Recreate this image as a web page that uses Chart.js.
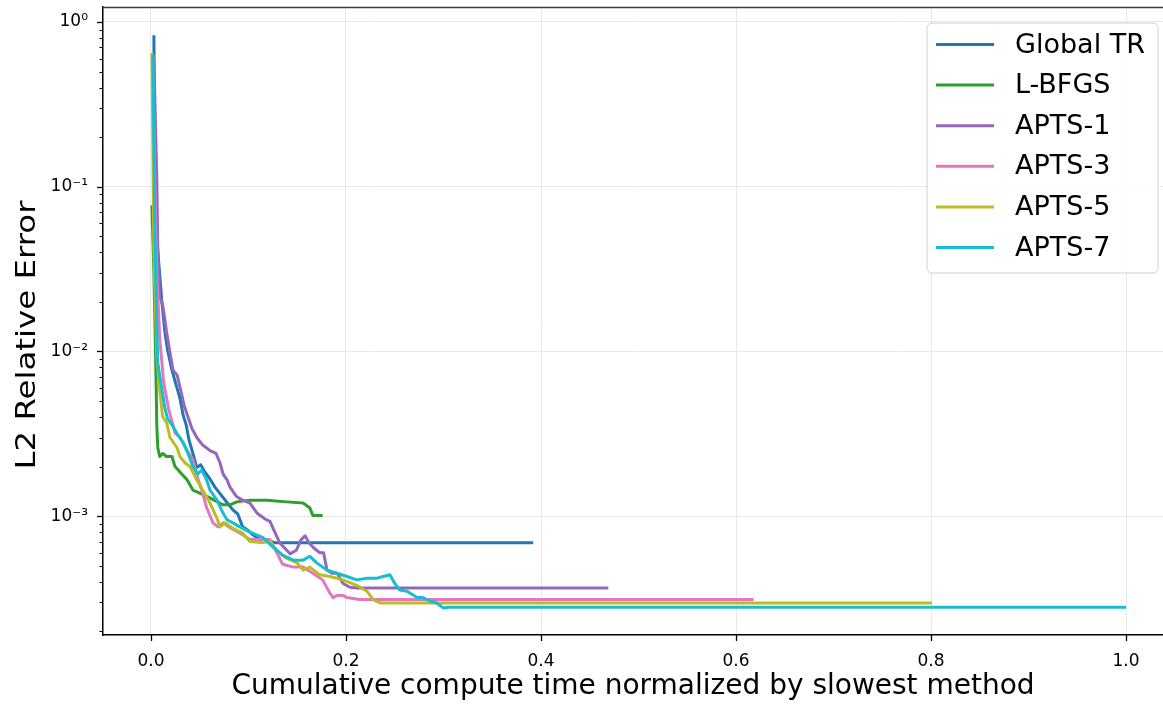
<!DOCTYPE html>
<html><head><meta charset="utf-8">
<script src="https://cdn.jsdelivr.net/npm/chart.js@4.4.1/dist/chart.umd.min.js"></script>
<style>html,body{margin:0;padding:0;background:#fff;overflow:hidden}canvas{display:block}</style>
</head><body>
<canvas id="c" width="1163" height="704"></canvas>
<script>
// ---- data ----
const seriesNames = ['Global TR', 'L-BFGS', 'APTS-1', 'APTS-3', 'APTS-5', 'APTS-7'];
const seriesColors = ['#1f77b4', '#2ca02c', '#9467bd', '#e377c2', '#bcbd22', '#17becf'];

const globalTR_x = [0.003,0.004,0.007,0.011,0.014,0.017,0.0215,0.0256,0.0297,0.033,0.036,0.039,0.043,0.047,0.051,0.055,0.0605,0.0656,0.0708,0.078,0.084,0.089,0.094,0.0995,0.1046,0.11,0.117,0.127,0.392];
const globalTR_y = [0.83,0.083,0.041,0.0205,0.0135,0.0102,0.0077,0.0063,0.0052,0.0041,0.0036,0.0029,0.0024,0.00197,0.00205,0.00186,0.00168,0.0015,0.00137,0.00121,0.00109,0.00103,0.00086,0.00082,0.00077,0.00073,0.00072,0.00069,0.00069];

const lbfgs_x = [0.001,0.003,0.005,0.006,0.007,0.009,0.012,0.016,0.0215,0.0246,0.0297,0.037,0.043,0.05,0.0605,0.074,0.081,0.088,0.1015,0.119,0.139,0.156,0.163,0.166,0.176];
const lbfgs_y = [0.077,0.03,0.008,0.0035,0.0026,0.0023,0.0024,0.0023,0.0023,0.002,0.00185,0.00166,0.00144,0.00138,0.00129,0.00117,0.00117,0.00122,0.00125,0.00125,0.00122,0.0012,0.00112,0.00101,0.00101];

const apts1_x = [0.003,0.006,0.007,0.009,0.012,0.014,0.016,0.0195,0.0226,0.0267,0.0297,0.034,0.038,0.042,0.047,0.053,0.0605,0.0667,0.0708,0.074,0.078,0.081,0.088,0.094,0.1015,0.109,0.117,0.122,0.127,0.132,0.137,0.1426,0.149,0.154,0.158,0.162,0.167,0.173,0.177,0.1805,0.1856,0.191,0.197,0.204,0.211,0.469];
const apts1_y = [0.59,0.11,0.041,0.0214,0.0191,0.016,0.0131,0.0098,0.0077,0.0072,0.0061,0.0047,0.004,0.0034,0.003,0.0027,0.0025,0.0024,0.0021,0.0018,0.00166,0.0015,0.00131,0.00125,0.0012,0.00104,0.00096,0.00093,0.0008,0.00069,0.00064,0.00059,0.00062,0.00072,0.00076,0.00069,0.00064,0.0006,0.0006,0.00047,0.00045,0.00045,0.00039,0.00037,0.000366,0.000366];

const apts3_x = [0.002,0.004,0.006,0.009,0.013,0.018,0.0246,0.0297,0.037,0.043,0.048,0.052,0.057,0.0636,0.0687,0.074,0.081,0.091,0.1015,0.122,0.129,0.135,0.146,0.156,0.166,0.176,0.1836,0.1867,0.191,0.197,0.201,0.214,0.618];
const apts3_y = [0.62,0.1,0.03,0.012,0.0065,0.0045,0.0032,0.003,0.0025,0.0022,0.0017,0.00144,0.00113,0.00091,0.00086,0.00091,0.00085,0.00079,0.00072,0.00072,0.0006,0.00051,0.00049,0.00049,0.00045,0.00041,0.00034,0.00032,0.00033,0.00033,0.00032,0.000312,0.000312];

const apts5_x = [0.001,0.002,0.003,0.006,0.009,0.012,0.016,0.0195,0.0267,0.0297,0.035,0.04,0.047,0.053,0.0605,0.0677,0.0708,0.076,0.083,0.088,0.094,0.1015,0.115,0.122,0.129,0.1375,0.15,0.156,0.163,0.173,0.1836,0.197,0.211,0.2215,0.228,0.235,0.801];
const apts5_y = [0.65,0.17,0.041,0.0093,0.0058,0.004,0.0037,0.003,0.0026,0.0023,0.0021,0.002,0.00166,0.00144,0.0012,0.00097,0.00086,0.00091,0.00085,0.00082,0.00079,0.0007,0.00069,0.0007,0.00062,0.00056,0.00052,0.00047,0.00049,0.00044,0.00043,0.00041,0.00038,0.00035,0.00031,0.000297,0.000297];

const apts7_x = [0.002,0.004,0.006,0.007,0.011,0.014,0.017,0.0226,0.0277,0.033,0.038,0.043,0.048,0.052,0.057,0.0605,0.0677,0.074,0.078,0.084,0.091,0.1015,0.115,0.125,0.135,0.146,0.156,0.163,0.17,0.1805,0.191,0.201,0.211,0.2215,0.232,0.238,0.245,0.25,0.255,0.2626,0.273,0.279,0.286,0.293,0.3,0.305,1.0];
const apts7_y = [0.63,0.055,0.0135,0.0085,0.006,0.0046,0.0039,0.0035,0.0031,0.0028,0.0024,0.002,0.0018,0.0019,0.00166,0.00144,0.00125,0.00104,0.00095,0.00091,0.00086,0.0008,0.00074,0.00065,0.00058,0.00054,0.00054,0.00057,0.00052,0.00047,0.00045,0.00043,0.00041,0.00042,0.00042,0.00043,0.00044,0.00039,0.000356,0.00035,0.00032,0.00032,0.000305,0.000297,0.000277,0.00028,0.00028];

const xTickValues = [0, 0.2, 0.4, 0.6, 0.8, 1.0];
const yMajorValues = [1e-3, 1e-2, 1e-1, 1];
const yMajorLabels = ['10\u207B\u00B3', '10\u207B\u00B2', '10\u207B\u00B9', '10\u2070'];
const xTitle = 'Cumulative compute time normalized by slowest method';
const yTitle = 'L2 Relative Error';

// ---- build ----
const seriesX = [globalTR_x, lbfgs_x, apts1_x, apts3_x, apts5_x, apts7_x];
const seriesY = [globalTR_y, lbfgs_y, apts1_y, apts3_y, apts5_y, apts7_y];
function pts(xs, ys) { const n = Math.min(xs.length, ys.length); const o = []; for (let i = 0; i < n; i++) o.push({x: xs[i], y: ys[i]}); return o; }

const FONT = "'DejaVu Sans', sans-serif";
const isMajor = v => Math.abs(Math.log10(v) - Math.round(Math.log10(v))) < 1e-6;
const Y_MIN = 1.897e-4, Y_MAX = 1.233;

const yTickList = [];
for (let e = -4; e <= 0; e++) for (let m = 1; m <= 9; m++) {
  const v = m * Math.pow(10, e);
  if (v >= Y_MIN && v <= Y_MAX) yTickList.push(m === 1 ? Math.pow(10, e) : v);
}

const datasets = seriesNames.map((name, i) => ({
  label: name,
  data: pts(seriesX[i], seriesY[i]),
  borderColor: seriesColors[i],
  backgroundColor: seriesColors[i],
  borderWidth: 3,
  pointRadius: 0,
  tension: 0,
  fill: false,
  borderJoinStyle: 'round',
  borderCapStyle: 'butt',
  order: seriesNames.length - 1 - i
}));

const decor = {
  id: 'decor',
  afterDraw(chart) {
    const {ctx, chartArea: a, scales: {x, y}} = chart;
    ctx.save();
    // top spine
    ctx.strokeStyle = '#3a3a3a'; ctx.lineWidth = 1.6;
    ctx.beginPath(); ctx.moveTo(a.left, a.top + 0.5); ctx.lineTo(a.right, a.top + 0.5); ctx.stroke();
    // ticks
    ctx.strokeStyle = '#000';
    y.ticks.forEach(t => {
      const py = Math.round(y.getPixelForValue(t.value)) + 0.5;
      const maj = isMajor(t.value);
      ctx.lineWidth = maj ? 1.3 : 1;
      const len = maj ? 6 : 3.5;
      ctx.beginPath(); ctx.moveTo(a.left - len, py); ctx.lineTo(a.left, py); ctx.stroke();
    });
    ctx.lineWidth = 1.3;
    x.ticks.forEach(t => {
      const px = Math.round(x.getPixelForValue(t.value)) + 0.5;
      ctx.beginPath(); ctx.moveTo(px, a.bottom); ctx.lineTo(px, a.bottom + 6); ctx.stroke();
    });
    // y axis title (slightly stretched along its length, as in the reference)
    ctx.save();
    ctx.translate(28, 335);
    ctx.rotate(-Math.PI / 2);
    ctx.scale(1.2, 1);
    ctx.font = '27px ' + FONT; ctx.fillStyle = '#000';
    ctx.textAlign = 'center'; ctx.textBaseline = 'middle';
    ctx.fillText(yTitle, 0, 0);
    ctx.restore();
    // legend
    const bx = a.right - 236, by = a.top + 16, bw = 231, bh = 250, r = 5;
    ctx.fillStyle = 'rgba(255,255,255,0.85)';
    ctx.strokeStyle = '#d0d0d0'; ctx.lineWidth = 1;
    ctx.beginPath();
    ctx.moveTo(bx + r, by); ctx.lineTo(bx + bw - r, by); ctx.arcTo(bx + bw, by, bx + bw, by + r, r);
    ctx.lineTo(bx + bw, by + bh - r); ctx.arcTo(bx + bw, by + bh, bx + bw - r, by + bh, r);
    ctx.lineTo(bx + r, by + bh); ctx.arcTo(bx, by + bh, bx, by + bh - r, r);
    ctx.lineTo(bx, by + r); ctx.arcTo(bx, by, bx + r, by, r); ctx.closePath();
    ctx.fill(); ctx.stroke();
    ctx.font = '27px ' + FONT; ctx.textBaseline = 'middle'; ctx.textAlign = 'left';
    chart.data.datasets.forEach((ds, i) => {
      const cy = by + 21.5 + i * 40.6;
      ctx.strokeStyle = ds.borderColor; ctx.lineWidth = 3;
      ctx.beginPath(); ctx.moveTo(bx + 9, cy); ctx.lineTo(bx + 67, cy); ctx.stroke();
      ctx.fillStyle = '#000';
      ctx.fillText(ds.label, bx + 88, cy + 1);
    });
    ctx.restore();
  }
};

new Chart(document.getElementById('c'), {
  type: 'line',
  data: {datasets},
  options: {
    responsive: false,
    animation: false,
    events: [],
    layout: {padding: {top: 7, left: 0, right: 0, bottom: 0}},
    plugins: {legend: {display: false}, tooltip: {enabled: false}},
    scales: {
      x: {
        type: 'linear',
        min: -0.0492, max: 1.0379,
        afterBuildTicks: s => { s.ticks = xTickValues.map(v => ({value: v})); },
        afterFit: s => { s.height = 69; s.paddingLeft = 0; s.paddingRight = 0; },
        grid: {color: '#e8e8e8', lineWidth: 1, drawTicks: true, tickLength: 6, tickColor: 'rgba(0,0,0,0)'},
        border: {display: true, color: '#000', width: 1.5},
        ticks: {font: {family: FONT, size: 17}, color: '#000', padding: 10, maxRotation: 0, autoSkip: false,
          callback: v => Number(v).toFixed(1)},
        title: {display: true, text: xTitle, font: {family: FONT, size: 28}, color: '#000', padding: {top: 0, bottom: 0}}
      },
      y: {
        type: 'logarithmic',
        min: Y_MIN, max: Y_MAX,
        afterBuildTicks: s => { s.ticks = yTickList.map(v => ({value: v})); },
        afterFit: s => { s.width = 103; s.paddingTop = 0; s.paddingBottom = 0; },
        grid: {color: c => (c.tick && isMajor(c.tick.value)) ? '#e8e8e8' : 'rgba(0,0,0,0)', lineWidth: 1, drawTicks: true, tickLength: 6, tickColor: 'rgba(0,0,0,0)'},
        border: {display: true, color: '#000', width: 1.5},
        ticks: {font: {family: FONT, size: 17}, color: '#000', padding: 9, autoSkip: false,
          callback: v => { const k = yMajorValues.findIndex(m => Math.abs(Math.log10(m) - Math.log10(v)) < 1e-6); return k >= 0 ? yMajorLabels[k] : ''; }},
        title: {display: false, text: yTitle}
      }
    }
  },
  plugins: [decor]
});
</script>
</body></html>
